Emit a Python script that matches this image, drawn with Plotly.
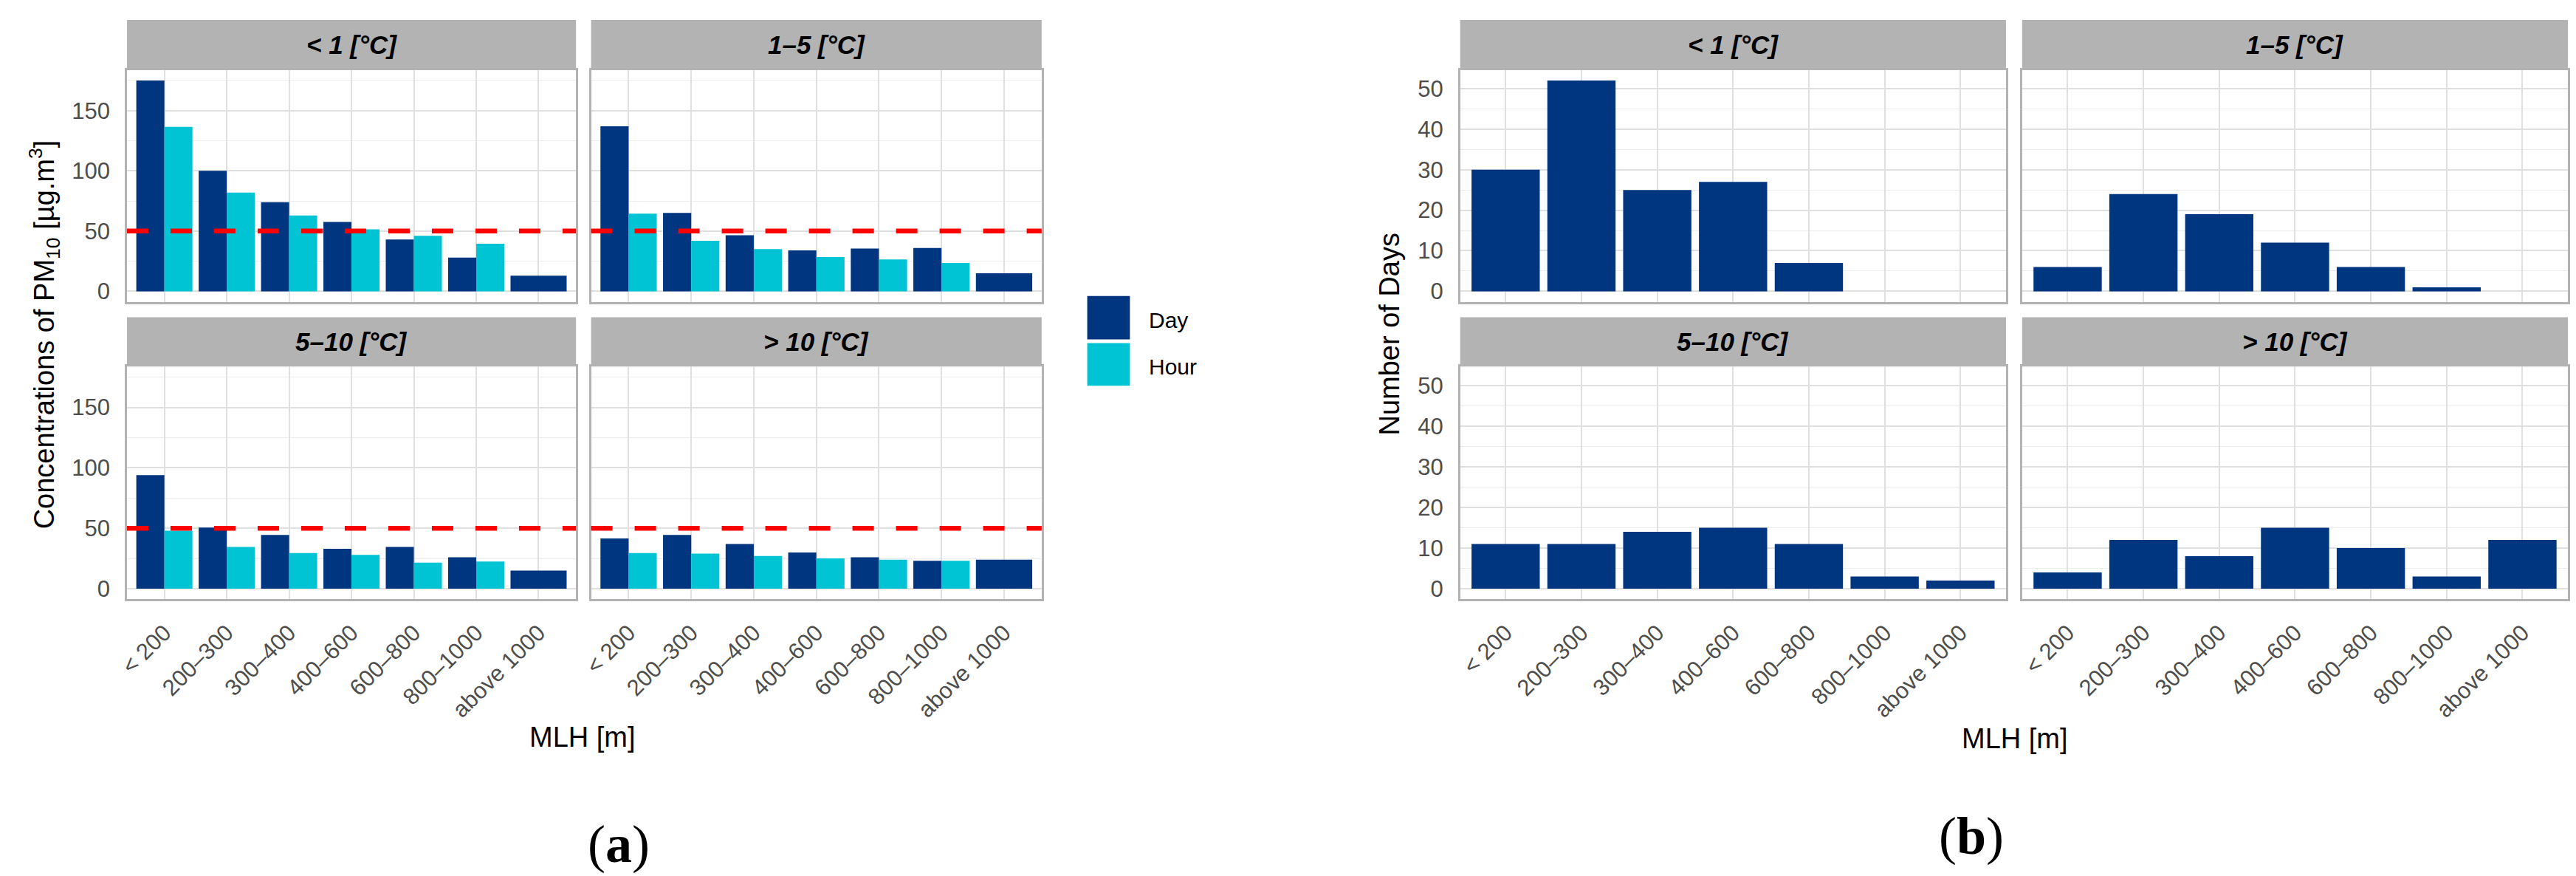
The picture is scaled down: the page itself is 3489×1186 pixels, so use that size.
import plotly.graph_objects as go

# ---------------- data ----------------
MLH_LABELS = ["< 200", "200–300", "300–400", "400–600", "600–800", "800–1000", "above 1000"]
TEMP_CLASSES = ["< 1 [°C]", "1–5 [°C]", "5–10 [°C]", "> 10 [°C]"]
SERIES_NAMES = ["Day", "Hour"]

# (a) concentrations of PM10 per temperature class (Day / Hour)
PM10_DAY_LT1 = [175, 100, 74, 57.5, 43, 28, 13]
PM10_HOUR_LT1 = [136.5, 82, 63, 51.5, 46, 39.5, None]
PM10_DAY_1_5 = [137, 65, 46.5, 34, 35.5, 36, 15]
PM10_HOUR_1_5 = [64.5, 42, 35, 28.5, 26.5, 23.5, None]
PM10_DAY_5_10 = [94, 50.5, 44.5, 33, 34.5, 26, 15]
PM10_HOUR_5_10 = [48, 34.5, 29.5, 28, 21.5, 22.5, None]
PM10_DAY_GT10 = [41.5, 44.5, 37, 30, 26, 23, 24]
PM10_HOUR_GT10 = [29.5, 29, 27, 25, 24, 23, None]

# (b) number of days per temperature class
DAYS_LT1 = [30, 52, 25, 27, 7, None, None]
DAYS_1_5 = [6, 24, 19, 12, 6, 1, None]
DAYS_5_10 = [11, 11, 14, 15, 11, 3, 2]
DAYS_GT10 = [4, 12, 8, 15, 10, 3, 12]

PM10_LIMIT = 50

# ---------------- style / layout ----------------
W, H = 3489, 1186
DAY_COLOR = "#00357F"
HOUR_COLOR = "#00C4D4"
STRIP_FILL = "#B3B3B3"
BORDER = "#B3B3B3"
GRID = "#E0E0E0"
GRID_MINOR = "#EDEDED"
TICK_COLOR = "#4D4D4D"
FONT = "Liberation Sans"

A_COLS = [(151.5, 762), (782.5, 1395)]
B_COLS = [(1964, 2706), (2728, 3470)]
ROWS = [(87, 402), (490, 806)]
STRIP_TOPS = [19, 423]


def fx(px):
    return px / W


def fy(py):
    return 1 - py / H


def esc(s):
    return s.replace("<", "&lt;").replace(">", "&gt;")


fig = go.Figure()
layout = dict(
    width=W, height=H, margin=dict(l=0, r=0, t=0, b=0),
    paper_bgcolor="white", plot_bgcolor="white",
    barmode="overlay", showlegend=False,
    font=dict(family=FONT, size=30, color="black"),
)
shapes = []
annotations = []

positions = list(range(1, len(MLH_LABELS) + 1))
pm_day = [PM10_DAY_LT1, PM10_DAY_1_5, PM10_DAY_5_10, PM10_DAY_GT10]
pm_hour = [PM10_HOUR_LT1, PM10_HOUR_1_5, PM10_HOUR_5_10, PM10_HOUR_GT10]
days = [DAYS_LT1, DAYS_1_5, DAYS_5_10, DAYS_GT10]

pm_max = max(v for s in pm_day + pm_hour for v in s if v is not None)
days_max = max(v for s in days for v in s if v is not None)


def add_axes(idx, cols, row, col, yrange, ytickvals, yminor, show_x, show_y):
    xs, xe = cols[col]
    ys, ye = ROWS[row]
    xname = "xaxis" if idx == 1 else f"xaxis{idx}"
    yname = "yaxis" if idx == 1 else f"yaxis{idx}"
    layout[xname] = dict(
        domain=[fx(xs), fx(xe)], anchor=f"y{idx}" if idx > 1 else "y",
        range=[0.4, len(MLH_LABELS) + 0.6],
        tickvals=positions, ticktext=[esc(t) for t in MLH_LABELS],
        showticklabels=show_x, tickangle=-45,
        tickfont=dict(family=FONT, size=31, color=TICK_COLOR),
        ticklabelstandoff=12,
        showgrid=True, gridcolor=GRID, gridwidth=2, zeroline=False,
        showline=True, mirror=True, linecolor=BORDER, linewidth=2.5,
        ticks="", fixedrange=True,
    )
    layout[yname] = dict(
        domain=[fy(ye), fy(ys)], anchor=f"x{idx}" if idx > 1 else "x",
        range=yrange, tickvals=ytickvals, showticklabels=show_y,
        tickfont=dict(family=FONT, size=31, color=TICK_COLOR),
        ticklabelstandoff=14,
        showgrid=True, gridcolor=GRID, gridwidth=2, zeroline=False,
        minor=dict(tickvals=yminor, showgrid=True, gridcolor=GRID_MINOR, gridwidth=1.2, ticks=""),
        showline=True, mirror=True, linecolor=BORDER, linewidth=2.5,
        ticks="", fixedrange=True,
    )
    st = STRIP_TOPS[row]
    shapes.append(dict(type="rect", xref="paper", yref="paper",
                       x0=fx(xs), x1=fx(xe), y0=fy(ys), y1=fy(st),
                       fillcolor=STRIP_FILL, line=dict(width=0), layer="below"))


# ---------- panel (a) ----------
for k in range(4):
    idx = k + 1
    row, col = divmod(k, 2)
    add_axes(idx, A_COLS, row, col, [-0.05 * pm_max, 1.05 * pm_max],
             [0, 50, 100, 150], [25, 75, 125, 175], row == 1, col == 0)
    dx, dw, hx, hy, hw = [], [], [], [], []
    for p, d, h in zip(positions, pm_day[k], pm_hour[k]):
        if h is None:
            dx.append(p); dw.append(0.9)
        else:
            dx.append(p - 0.225); dw.append(0.45)
            hx.append(p + 0.225); hy.append(h); hw.append(0.45)
    ax = "x" if idx == 1 else f"x{idx}"
    ay = "y" if idx == 1 else f"y{idx}"
    fig.add_trace(go.Bar(x=dx, y=pm_day[k], width=dw, name=SERIES_NAMES[0],
                         marker=dict(color=DAY_COLOR, line=dict(width=0)), xaxis=ax, yaxis=ay))
    fig.add_trace(go.Bar(x=hx, y=hy, width=hw, name=SERIES_NAMES[1],
                         marker=dict(color=HOUR_COLOR, line=dict(width=0)), xaxis=ax, yaxis=ay))
    shapes.append(dict(type="line", xref=f"{ax} domain", yref=ay, x0=0, x1=1,
                       y0=PM10_LIMIT, y1=PM10_LIMIT,
                       line=dict(color="#FF0000", width=6.5, dash="29px,30px"), layer="above"))
    xs, xe = A_COLS[col]
    st = STRIP_TOPS[row]
    annotations.append(dict(xref="paper", yref="paper", x=fx((xs + xe) / 2), y=fy((st + ROWS[row][0]) / 2),
                            text=esc(TEMP_CLASSES[k]), showarrow=False, xanchor="center", yanchor="middle",
                            font=dict(family=FONT, size=35, color="black", weight="bold", style="italic")))

# ---------- panel (b) ----------
for k in range(4):
    idx = k + 5
    row, col = divmod(k, 2)
    add_axes(idx, B_COLS, row, col, [-0.05 * days_max, 1.05 * days_max],
             [0, 10, 20, 30, 40, 50], [5, 15, 25, 35, 45, 55], row == 1, col == 0)
    ax = f"x{idx}"
    ay = f"y{idx}"
    fig.add_trace(go.Bar(x=positions, y=days[k], width=0.9, name=SERIES_NAMES[0],
                         marker=dict(color=DAY_COLOR, line=dict(width=0)), xaxis=ax, yaxis=ay))
    xs, xe = B_COLS[col]
    st = STRIP_TOPS[row]
    annotations.append(dict(xref="paper", yref="paper", x=fx((xs + xe) / 2), y=fy((st + ROWS[row][0]) / 2),
                            text=esc(TEMP_CLASSES[k]), showarrow=False, xanchor="center", yanchor="middle",
                            font=dict(family=FONT, size=35, color="black", weight="bold", style="italic")))

# ---------- titles ----------
TITLE_SIZE = 38
annotations += [
    dict(xref="paper", yref="paper", x=fx(40), y=fy(446), textangle=-90,
         text="Concentrations of PM<sub>10</sub> [µg.m<sup>3</sup>]", showarrow=False,
         xanchor="center", yanchor="middle", font=dict(family=FONT, size=TITLE_SIZE, color="black")),
    dict(xref="paper", yref="paper", x=fx(1868), y=fy(446), textangle=-90,
         text="Number of Days", showarrow=False,
         xanchor="center", yanchor="middle", font=dict(family=FONT, size=TITLE_SIZE, color="black")),
    dict(xref="paper", yref="paper", x=fx(771), y=fy(993), text="MLH [m]", showarrow=False,
         xanchor="center", yanchor="middle", font=dict(family=FONT, size=TITLE_SIZE, color="black")),
    dict(xref="paper", yref="paper", x=fx(2718), y=fy(995), text="MLH [m]", showarrow=False,
         xanchor="center", yanchor="middle", font=dict(family=FONT, size=TITLE_SIZE, color="black")),
    dict(xref="paper", yref="paper", x=fx(820), y=fy(1139), text="(<b>a</b>)", showarrow=False,
         xanchor="center", yanchor="middle", font=dict(family="Liberation Serif", size=72, color="black")),
    dict(xref="paper", yref="paper", x=fx(2659), y=fy(1128), text="(<b>b</b>)", showarrow=False,
         xanchor="center", yanchor="middle", font=dict(family="Liberation Serif", size=72, color="black")),
]

# ---------- legend (drawn manually for large keys) ----------
LEG_X0, LEG_X1 = 1457, 1515
LEG_KEYS = [(394, 453), (458, 516)]
for (t, b), name, color in zip(LEG_KEYS, SERIES_NAMES, [DAY_COLOR, HOUR_COLOR]):
    shapes.append(dict(type="rect", xref="paper", yref="paper",
                       x0=fx(LEG_X0), x1=fx(LEG_X1), y0=fy(b), y1=fy(t),
                       fillcolor=color, line=dict(width=0)))
    annotations.append(dict(xref="paper", yref="paper", x=fx(1539), y=fy((t + b) / 2 + 3),
                            text=name, showarrow=False, xanchor="left", yanchor="middle",
                            font=dict(family=FONT, size=30, color="black")))

layout["shapes"] = shapes
layout["annotations"] = annotations
fig.update_layout(**layout)
fig.write_html("out.html")
